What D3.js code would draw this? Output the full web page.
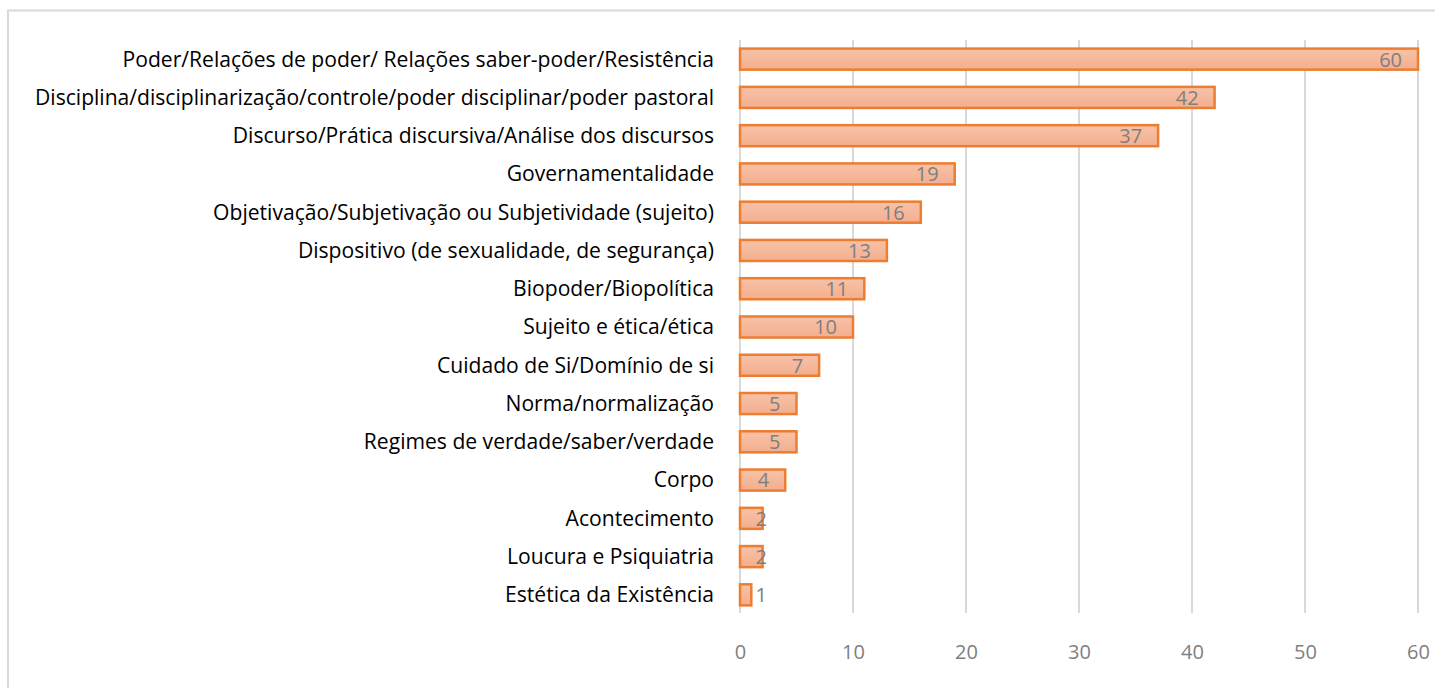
<!DOCTYPE html>
<html lang="pt">
<head>
<meta charset="utf-8">
<script src="https://cdn.jsdelivr.net/npm/d3@7"></script>
<style>
  body { margin: 0; background: #ffffff; }
  svg text { font-family: "Open Sans", sans-serif; }
</style>
</head>
<body>
<div id="chart"></div>
<script>
// categorias (de cima para baixo) e contagens
var categories = [
  "Poder/Relações de poder/ Relações saber-poder/Resistência",
  "Disciplina/disciplinarização/controle/poder disciplinar/poder pastoral",
  "Discurso/Prática discursiva/Análise dos discursos",
  "Governamentalidade",
  "Objetivação/Subjetivação ou Subjetividade (sujeito)",
  "Dispositivo (de sexualidade, de segurança)",
  "Biopoder/Biopolítica",
  "Sujeito e ética/ética",
  "Cuidado de Si/Domínio de si",
  "Norma/normalização",
  "Regimes de verdade/saber/verdade",
  "Corpo",
  "Acontecimento",
  "Loucura e Psiquiatria",
  "Estética da Existência"
];
var values = [60, 42, 37, 19, 16, 13, 11, 10, 7, 5, 5, 4, 2, 2, 1];
var ticks = [0, 10, 20, 30, 40, 50, 60];

var w = 1435, h = 688;
var svg = d3.select("#chart").append("svg")
  .attr("width", w)
  .attr("height", h);

// chart border
svg.append("rect")
  .attr("x", 8).attr("y", 10.5)
  .attr("width", 1440).attr("height", 700)
  .attr("fill", "none")
  .attr("stroke", "#d9d9d9")
  .attr("stroke-width", 2);

// bar fill gradient
var grad = svg.append("defs").append("linearGradient")
  .attr("id", "barfill").attr("x1", 0).attr("y1", 0).attr("x2", 0).attr("y2", 1);
grad.append("stop").attr("offset", "0%").attr("stop-color", "#f7c2a8");
grad.append("stop").attr("offset", "100%").attr("stop-color", "#f4ae8e");

var x = d3.scaleLinear().domain([0, 60]).range([740, 1418]);
var y = d3.scaleBand().domain(categories).range([40, 614]).paddingInner(0.45).paddingOuter(0.225);

// gridlines
svg.append("g").selectAll("line")
  .data(ticks)
  .enter().append("line")
  .attr("x1", function(d) { return x(d); })
  .attr("x2", function(d) { return x(d); })
  .attr("y1", 40).attr("y2", 613)
  .attr("stroke", "#d9d9d9")
  .attr("stroke-width", 2);

// x tick labels
var xAxis = d3.axisBottom(x).tickValues(ticks).tickSize(0).tickPadding(0);
var gx = svg.append("g").attr("transform", "translate(0,645)").call(xAxis);
gx.select(".domain").remove();
gx.selectAll("text")
  .attr("fill", "#7f7f7f")
  .style("font-size", "20px")
  .style("font-family", "'Open Sans', sans-serif");

// category labels
var yAxis = d3.axisLeft(y).tickSize(0).tickPadding(0);
var gy = svg.append("g").attr("transform", "translate(714,0)").call(yAxis);
gy.select(".domain").remove();
gy.selectAll("text")
  .attr("fill", "#000000")
  .attr("dy", "0.35em")
  .style("font-size", "21.1px")
  .style("font-family", "'Open Sans', sans-serif");

// bars
svg.append("g").selectAll("rect")
  .data(values)
  .enter().append("rect")
  .attr("x", x(0))
  .attr("y", function(d, i) { return y(categories[i]); })
  .attr("width", function(d) { return x(d) - x(0); })
  .attr("height", y.bandwidth())
  .attr("fill", "url(#barfill)")
  .attr("stroke", "#ed7d31")
  .attr("stroke-width", 2.5);

// value labels
svg.append("g").selectAll("text")
  .data(values)
  .enter().append("text")
  .attr("x", function(d) { return Math.max(x(d) - 16, x(0) + 27); })
  .attr("y", function(d, i) { return y(categories[i]) + y.bandwidth() / 2; })
  .attr("dy", "0.37em")
  .attr("text-anchor", "end")
  .attr("fill", "#7f7f7f")
  .style("font-size", "20px")
  .text(function(d) { return d; });
</script>
</body>
</html>
